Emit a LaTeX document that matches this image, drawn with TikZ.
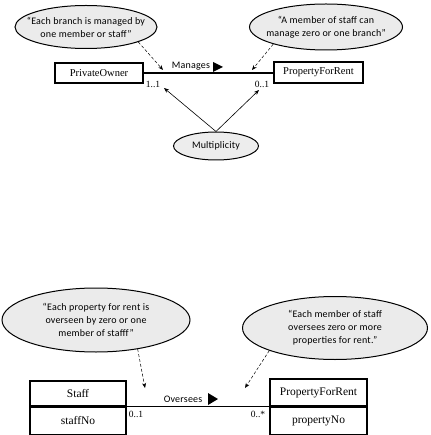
\documentclass[tikz,border=0pt]{standalone}
\usepackage{fontspec}
\setmainfont{Liberation Serif}
\newfontfamily\notefont[LetterSpace=2]{Carlito}
\usetikzlibrary{shapes.geometric,arrows.meta}
\begin{document}
\begin{tikzpicture}[x=1pt,y=-1pt,
  note/.style={ellipse, draw, line width=1pt, fill=gray!16, inner sep=-30pt, align=center,
    font=\notefont\fontsize{10}{13}\selectfont},
  box/.style={draw, line width=1.3pt, inner sep=0pt, font=\fontsize{10.5}{12}\selectfont},
  mult/.style={font=\fontsize{9.5}{10}\selectfont, inner sep=0pt},
  assoc/.style={font=\notefont\fontsize{10}{11}\selectfont, inner sep=0pt},
  link/.style={line width=1.3pt},
  dasharrow/.style={densely dashed, line width=0.5pt, -{Stealth[length=5pt,width=4pt]}},
  solidarrow/.style={line width=0.6pt, -{Stealth[length=5pt,width=4pt]}}
]
\useasboundingbox (0,0) rectangle (430,435);

% ---------- top diagram ----------
\node[note, minimum width=142pt, minimum height=43pt] (e1) at (86,27)
  {“Each branch is managed by\\one member or staff”};
\node[note, minimum width=153pt, minimum height=46pt] (e2) at (326,27)
  {“A member of staff can\\manage zero or one branch”};
\node[box, minimum width=88pt, minimum height=20pt] (po) at (99,73) {PrivateOwner};
\node[box, minimum width=89pt, minimum height=21pt] (pfr1) at (318.5,72.5) {PropertyForRent};
\draw[link] (po.east) -- (pfr1.west |- po.east);
\node[assoc, anchor=base] (manages) at (191,69) {Manages};
\fill (213,62) -- (223,67) -- (213,72) -- cycle;
\node[mult] (m11) at (153,84) {1..1};
\node[mult] (m01) at (262,84) {0..1};
\coordinate (t1) at (163,70);
\coordinate (t2) at (252,70);
\draw[dasharrow] (e1.-16) -- (t1);
\draw[dasharrow] (e2.-162) -- (t2);
\node[ellipse, draw, line width=1pt, fill=gray!14, minimum width=85pt, minimum height=28pt,
  inner sep=-10pt, font=\notefont\fontsize{10}{11}\selectfont] (mu) at (216,146) {Multiplicity};
\coordinate (t3) at (164,88);
\coordinate (t4) at (259,90);
\draw[solidarrow] (mu.north) -- (t3);
\draw[solidarrow] (mu.north) -- (t4);

% ---------- bottom diagram ----------
\node[note, minimum width=188pt, minimum height=64pt] (e3) at (96,320)
  {“Each property for rent is\\overseen by zero or one\\member of stafff”};
\node[note, minimum width=185pt, minimum height=63pt] (e4) at (335,328)
  {“Each member of staff\\oversees zero or more\\properties for rent.”};
\node[box, minimum width=96pt, minimum height=25pt, font=\fontsize{11.5}{13}\selectfont] (staff) at (78,393.5) {Staff};
\node[box, minimum width=96pt, minimum height=27pt, font=\fontsize{11.5}{13}\selectfont, anchor=north] (staffno) at (staff.south) {staffNo};
\node[box, minimum width=97pt, minimum height=27pt, font=\fontsize{11.5}{13}\selectfont] (pfr2) at (318.5,392.5) {PropertyForRent};
\node[box, minimum width=97pt, minimum height=27pt, font=\fontsize{11.5}{13}\selectfont, anchor=north] (pno) at (pfr2.south) {propertyNo};
\draw[link] (staffno.north east) -- (pno.north west |- staffno.north east);
\node[assoc, anchor=base] (oversees) at (183,402) {Oversees};
\fill (208,393) -- (218,399) -- (208,405) -- cycle;
\node[mult] (b01) at (136,414) {0..1};
\node[mult] (b0s) at (258,414) {0..*};
\coordinate (t5) at (145,388);
\coordinate (t6) at (245,388);
\draw[dasharrow] (e3.-35) -- (t5);
\draw[dasharrow] (e4.-161) -- (t6);
\end{tikzpicture}
\end{document}
